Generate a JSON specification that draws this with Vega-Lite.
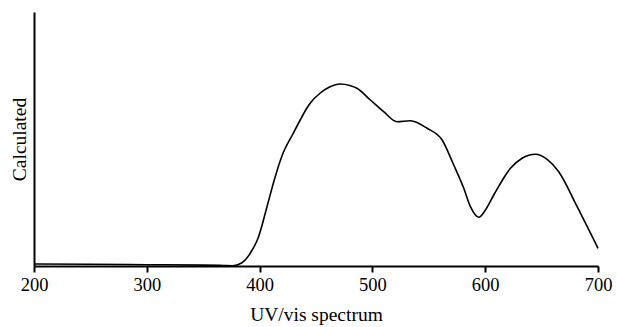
{
  "$schema": "https://vega.github.io/schema/vega-lite/v6.json",
  "autosize": "none",
  "width": 564,
  "height": 254,
  "padding": {"left": 34, "top": 12, "right": 19, "bottom": 61},
  "background": "white",
  "config": {
    "view": {"stroke": null},
    "font": "Liberation Serif"
  },
  "data": {
    "values": [
      {"wl": 200, "v": 2},
      {"wl": 250, "v": 1.7},
      {"wl": 300, "v": 1.3},
      {"wl": 350, "v": 0.9},
      {"wl": 368, "v": 0.5},
      {"wl": 376, "v": 0.3},
      {"wl": 384, "v": 3},
      {"wl": 391.7, "v": 12.7},
      {"wl": 399, "v": 29},
      {"wl": 406.5, "v": 59},
      {"wl": 413, "v": 86},
      {"wl": 419.8, "v": 110},
      {"wl": 430, "v": 133},
      {"wl": 436, "v": 146},
      {"wl": 442, "v": 158},
      {"wl": 445, "v": 163},
      {"wl": 453.8, "v": 173},
      {"wl": 462, "v": 179},
      {"wl": 471.5, "v": 182},
      {"wl": 480, "v": 180.5},
      {"wl": 486.3, "v": 177.7},
      {"wl": 498.2, "v": 166},
      {"wl": 510, "v": 154.3},
      {"wl": 521.8, "v": 144.3},
      {"wl": 533.7, "v": 145.3},
      {"wl": 548.5, "v": 137.7},
      {"wl": 561.8, "v": 126},
      {"wl": 572.1, "v": 101},
      {"wl": 581, "v": 77.7},
      {"wl": 586.9, "v": 59.3},
      {"wl": 594.3, "v": 48.7},
      {"wl": 600.2, "v": 56},
      {"wl": 607.6, "v": 71},
      {"wl": 622.4, "v": 97.7},
      {"wl": 632.7, "v": 107.7},
      {"wl": 644.5, "v": 111.7},
      {"wl": 654.9, "v": 106.7},
      {"wl": 665.2, "v": 94.3},
      {"wl": 681.5, "v": 59.3},
      {"wl": 700, "v": 17.7}
    ]
  },
  "mark": {"type": "line", "interpolate": "monotone", "color": "black", "strokeWidth": 1.6},
  "encoding": {
    "x": {
      "field": "wl",
      "type": "quantitative",
      "scale": {"domain": [200, 700], "nice": false, "zero": false},
      "axis": {
        "title": "UV/vis spectrum",
        "values": [200, 300, 400, 500, 600, 700],
        "grid": false,
        "domainColor": "black",
        "domainWidth": 2,
        "tickColor": "black",
        "tickWidth": 2,
        "tickSize": 6,
        "labelFont": "Liberation Serif",
        "labelFontSize": 18.5,
        "labelColor": "black",
        "labelPadding": 3,
        "labelFlush": false,
        "titleFont": "Liberation Serif",
        "titleFontSize": 19.5,
        "titleFontWeight": "normal",
        "titleColor": "black",
        "titlePadding": 12
      }
    },
    "y": {
      "field": "v",
      "type": "quantitative",
      "scale": {"domain": [0, 254], "nice": false},
      "axis": {
        "title": "Calculated",
        "labels": false,
        "ticks": false,
        "grid": false,
        "domainColor": "black",
        "domainWidth": 2,
        "titleFont": "Liberation Serif",
        "titleFontSize": 19.5,
        "titleFontWeight": "normal",
        "titleColor": "black",
        "titlePadding": 5
      }
    }
  }
}
